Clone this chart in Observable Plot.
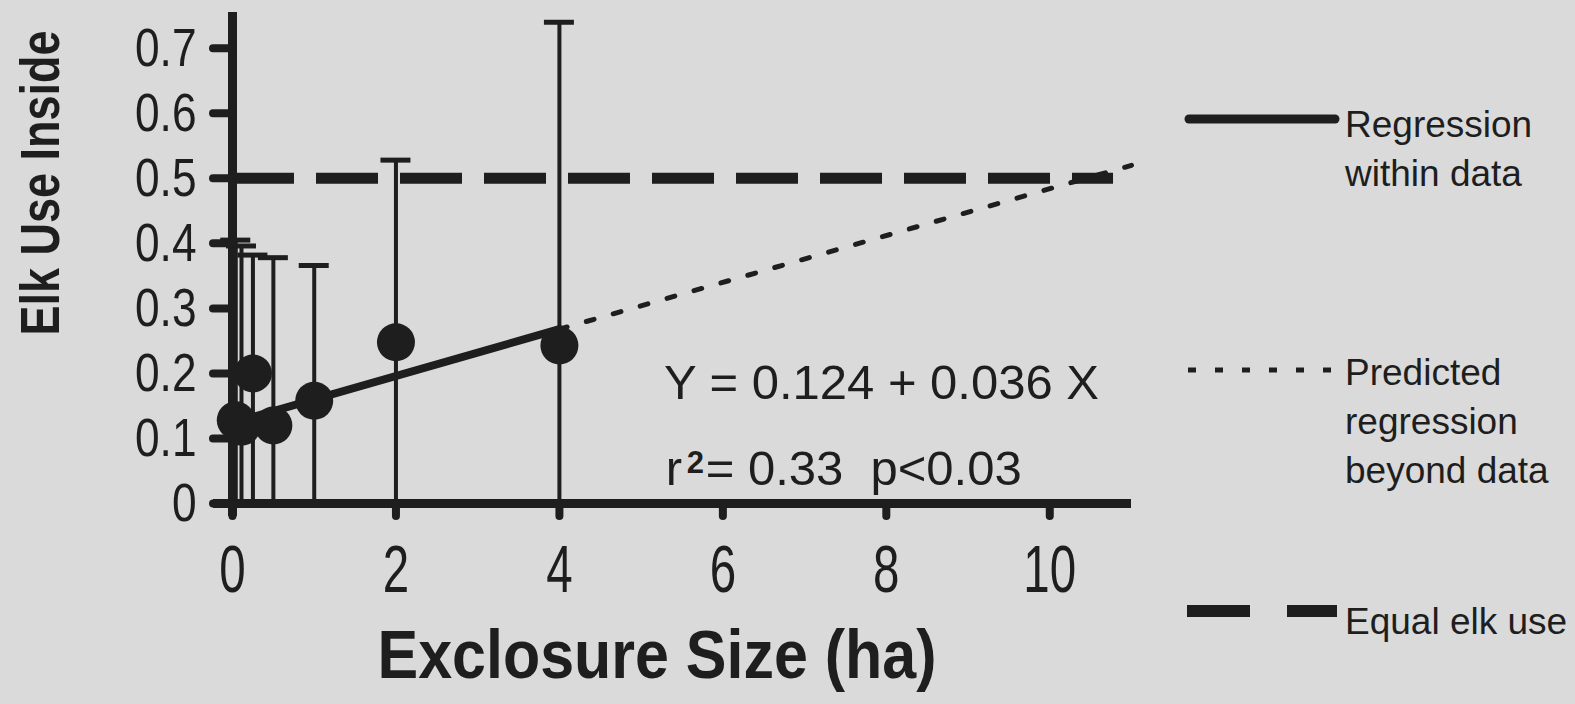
<!DOCTYPE html>
<html>
<head>
<meta charset="utf-8">
<script src="https://cdn.jsdelivr.net/npm/d3@7"></script>
<script src="https://cdn.jsdelivr.net/npm/@observablehq/plot@0.6"></script>
<style>
  html, body { margin: 0; padding: 0; background: #dadada; }
  #wrap { position: relative; width: 1575px; height: 704px; overflow: hidden; background: #dadada; }
</style>
</head>
<body>
<div id="wrap"></div>
<script>
// ---- data ----
const sizes    = [0.04, 0.11, 0.25, 0.5, 1, 2, 4];               // exclosure size (ha)
const elkUse   = [0.128, 0.118, 0.2, 0.12, 0.158, 0.248, 0.243];   // mean elk use inside
const upperErr = [0.405, 0.396, 0.382, 0.378, 0.366, 0.528, 0.74]; // top of error bars

const regWithinX = [0, 4];
const regWithinY = [0.124, 0.268];
const regBeyondX = [4, 11];
const regBeyondY = [0.268, 0.52];

const equalUseY = 0.5;
const equalUseX = [0, 10.78];

const xTicks = [0, 2, 4, 6, 8, 10];
const xTickLabels = ["0", "2", "4", "6", "8", "10"];
const yTicks = [0, 0.1, 0.2, 0.3, 0.4, 0.5, 0.6, 0.7];
const yTickLabels = ["0", "0.1", "0.2", "0.3", "0.4", "0.5", "0.6", "0.7"];

const xTitle = "Exclosure Size (ha)";
const yTitle = "Elk Use Inside";
const equationText = "Y = 0.124 + 0.036 X";
const r2Label = "r";
const r2Sup = "2";
const r2Rest = "= 0.33\u00a0\u00a0p<0.03";

const legendLabels = [["Regression", "within data"], ["Predicted", "regression", "beyond data"], ["Equal elk use"]];
const legendKinds = ["solid", "dotted", "dashed"];

// ---- tables ----
const points = sizes.map((s, i) => ({size: s, use: elkUse[i], upper: upperErr[i]}));
const within = regWithinX.map((x, i) => ({x, y: regWithinY[i]}));
const beyond = regBeyondX.map((x, i) => ({x, y: regBeyondY[i]}));

const ink = "#1e1e1e";
const FONT = "'Liberation Sans', Arial, sans-serif";

const chart = Plot.plot({
  width: 1575,
  height: 704,
  marginLeft: 232,
  marginRight: 444,
  marginTop: 12,
  marginBottom: 201,
  style: {background: "transparent", color: ink, overflow: "visible"},
  x: {domain: [0, 11], axis: null},
  y: {domain: [0, 0.755], axis: null},
  marks: [
    // equal use dashed line
    Plot.ruleY([equalUseY], {x1: equalUseX[0], x2: equalUseX[1], stroke: ink, strokeWidth: 11, strokeDasharray: "62,22"}),
    // error bars
    Plot.ruleX(points, {x: "size", y1: 0, y2: "upper", stroke: ink, strokeWidth: 4}),
    Plot.ruleY(points, {y: "upper", x1: "size", x2: "size", insetLeft: -15, insetRight: -15, stroke: ink, strokeWidth: 5}),
    // regression lines
    Plot.line(within, {x: "x", y: "y", stroke: ink, strokeWidth: 8}),
    Plot.line(beyond, {x: "x", y: "y", stroke: ink, strokeWidth: 5, strokeDasharray: "8,20"}),
    // points
    Plot.dot(points, {x: "size", y: "use", r: 19, fill: ink, stroke: "none"}),
    // axes lines
    Plot.ruleX([0], {stroke: ink, strokeWidth: 9, insetBottom: -13}),
    Plot.ruleY([0], {stroke: ink, strokeWidth: 9, insetLeft: -19}),
    // y ticks
    Plot.ruleY(yTicks, {y: d => d, x1: 0, x2: 0, insetLeft: -19, stroke: ink, strokeWidth: 8, strokeLinecap: "round"}),
    Plot.text(yTicks, {x: 0, y: d => d, text: d => yTickLabels[yTicks.indexOf(d)], textAnchor: "end", lineAnchor: "middle", dx: -36, fontSize: 54, fontFamily: FONT, fill: ink}),
    // x ticks
    Plot.ruleX(xTicks, {x: d => d, y1: 0, y2: 0, insetTop: 13, stroke: ink, strokeWidth: 8, strokeLinecap: "round"}),
    Plot.text(xTicks, {x: d => d, y: 0, text: d => xTickLabels[xTicks.indexOf(d)], textAnchor: "middle", lineAnchor: "bottom", dy: 88, fontSize: 66, fontFamily: FONT, fill: ink}),
    // titles
    Plot.text([xTitle], {frameAnchor: "bottom", text: d => d, textAnchor: "middle", lineAnchor: "bottom", dx: -25, dy: 174, fontSize: 68, fontWeight: "bold", fontFamily: FONT, fill: ink}),
    Plot.text([yTitle], {frameAnchor: "left", text: d => d, rotate: -90, textAnchor: "middle", lineAnchor: "middle", dx: -191, dy: -75, fontSize: 55, fontWeight: "bold", fontFamily: FONT, fill: ink}),
    // equation annotation
    Plot.text([equationText], {x: 5.28, y: 0.16, text: d => d, textAnchor: "start", lineAnchor: "bottom", fontSize: 49, fontFamily: FONT, fill: ink}),
    Plot.text([r2Label], {x: 5.3, y: 0.029, text: d => d, textAnchor: "start", lineAnchor: "bottom", fontSize: 49, fontFamily: FONT, fill: ink}),
    Plot.text([r2Sup], {x: 5.3, y: 0.029, text: d => d, textAnchor: "start", lineAnchor: "bottom", dx: 21, dy: -12, fontSize: 31, fontWeight: "bold", fontFamily: FONT, fill: ink}),
    Plot.text([r2Rest], {x: 5.3, y: 0.029, text: d => d, textAnchor: "start", lineAnchor: "bottom", dx: 40, fontSize: 49, fontFamily: FONT, fill: ink})
  ]
});

// ---- legend (right side) ----
const svg = d3.select(chart);
const legendTop = [119, 370, 611];   // y of swatch
const legendBase = [137, 385, 634];  // baseline of first label line
const lg = svg.append("g").attr("fill", ink).attr("stroke", ink).attr("text-anchor", "start");
legendKinds.forEach((kind, i) => {
  const y = legendTop[i];
  if (kind === "solid") {
    lg.append("line").attr("x1", 1189).attr("x2", 1335).attr("y1", y).attr("y2", y)
      .attr("stroke-width", 9).attr("stroke-linecap", "round");
  } else if (kind === "dotted") {
    lg.append("line").attr("x1", 1188).attr("x2", 1336).attr("y1", y).attr("y2", y)
      .attr("stroke-width", 5).attr("stroke-dasharray", "8,19");
  } else {
    lg.append("line").attr("x1", 1187).attr("x2", 1337).attr("y1", y).attr("y2", y)
      .attr("stroke-width", 12).attr("stroke-dasharray", "63,37");
  }
  legendLabels[i].forEach((t, j) => {
    lg.append("text").attr("x", 1345).attr("y", legendBase[i] + j * 49)
      .attr("stroke", "none").attr("text-anchor", "start")
      .attr("font-family", FONT).attr("font-size", 37).text(t);
  });
});

document.getElementById("wrap").appendChild(chart);

// condense texts set in a narrow face in the original (no narrow font is installed)
function condenseText(el, len) {
  const natural = el.getComputedTextLength();
  const k = len / natural;
  const tr = el.getAttribute("transform") || "";
  el.setAttribute("transform", `${tr} scale(${k},1)`.trim());
  // keep the anchor point fixed for non-rotated texts that carry x/y attributes
  const x = el.getAttribute("x");
  if (x != null) el.setAttribute("x", +x / k);
}
const allTexts = Array.from(chart.querySelectorAll("text"));
allTexts.forEach(el => {
  const t = el.textContent;
  if (t === xTitle) condenseText(el, 559);
  else if (t === yTitle) condenseText(el, 305);
});
// x tick labels: the group holding "10"
const tenLabel = allTexts.find(el => el.textContent === "10");
if (tenLabel) {
  Array.from(tenLabel.parentNode.querySelectorAll("text")).forEach(el => condenseText(el, el.getComputedTextLength() * 0.72));
}
// y tick labels: the group holding "0.7"
const topLabel = allTexts.find(el => el.textContent === "0.7");
if (topLabel) {
  Array.from(topLabel.parentNode.querySelectorAll("text")).forEach(el => condenseText(el, el.getComputedTextLength() * 0.82));
}
</script>
</body>
</html>
